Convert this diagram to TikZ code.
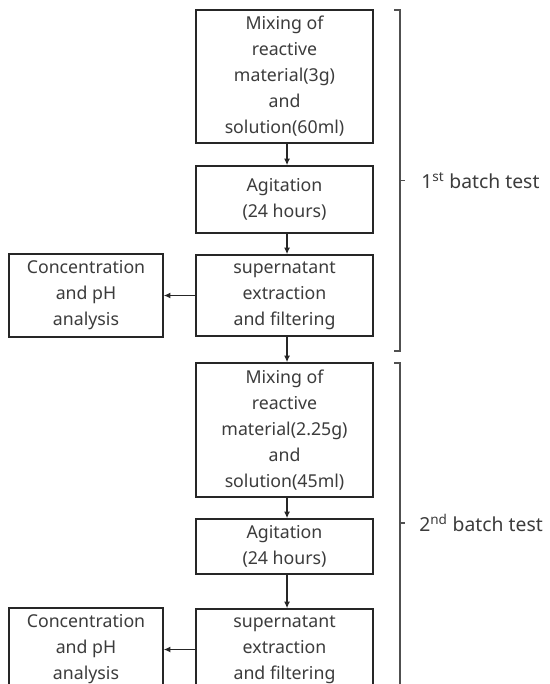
\documentclass[tikz,border=0pt]{standalone}
\usepackage{fontspec}
\setmainfont{Noto Sans}
\usetikzlibrary{arrows.meta}
\definecolor{txt}{RGB}{60,60,60}
\definecolor{brk}{RGB}{80,80,80}
\begin{document}
\begin{tikzpicture}[x=0.75pt,y=-0.75pt,
  box/.style={draw=black!85,line width=1.1pt,align=center,text=txt,
    font=\fontsize{13.3}{19.5}\selectfont,inner sep=0pt,minimum width=132.75pt},
  lbox/.style={box,minimum width=115.5pt,minimum height=62.25pt},
  flow/.style={draw=black!85,line width=1pt,-{Latex[length=5pt,width=4.5pt]}},
  bracket/.style={draw=brk,line width=1pt},
  lab/.style={text=txt,font=\fontsize{14.5}{16}\selectfont,anchor=west,inner sep=0pt}]
\useasboundingbox (0,0) rectangle (549,684);
\clip (0,0) rectangle (549,684);
\fill[white] (0,0) rectangle (549,684);
% first batch
\node[box,minimum height=99.75pt] (b1) at (284.5,76.5) {Mixing of\\reactive\\material(3g)\\and\\solution(60ml)};
\node[box,minimum height=50.25pt] (b2) at (284.5,199.5) {Agitation\\(24 hours)};
\node[box,minimum height=60.75pt] (b3) at (284.5,295.5) {supernatant\\extraction\\and filtering};
\node[lbox] (l1) at (86,295.5) {Concentration\\and pH\\analysis};
% second batch
\node[box,minimum height=100.5pt] (b4) at (284.5,430) {Mixing of\\reactive\\material(2.25g)\\and\\solution(45ml)};
\node[box,minimum height=41.25pt] (b5) at (284.5,546.5) {Agitation\\(24 hours)};
\node[box,minimum height=60.75pt] (b6) at (284.5,649.5) {supernatant\\extraction\\and filtering};
\node[lbox] (l2) at (86,649.5) {Concentration\\and pH\\analysis};
% connectors
\draw[flow] ([xshift=1.9pt]b1.south) -- ([xshift=1.9pt]b2.north);
\draw[flow] ([xshift=1.9pt]b2.south) -- ([xshift=1.9pt]b3.north);
\draw[flow] ([xshift=1.9pt]b3.south) -- ([xshift=1.9pt]b4.north);
\draw[flow] ([xshift=1.9pt]b4.south) -- ([xshift=1.9pt]b5.north);
\draw[flow] ([xshift=1.9pt]b5.south) -- ([xshift=1.9pt]b6.north);
\draw[flow] (b3) -- (l1);
\draw[flow] (b6) -- (l2);
% brackets
\coordinate (k1a) at (394,10);
\coordinate (k1b) at (400,10);
\coordinate (k1c) at (400,351);
\coordinate (k1d) at (394,351);
\coordinate (k1m) at (400,180.5);
\coordinate (k1e) at (405,180.5);
\draw[bracket] (k1a) -- (k1b) -- (k1c) -- (k1d);
\draw[bracket] (k1m) -- (k1e);
\node[lab] (t1) at (421,181) {1\textsuperscript{st} batch test};
\coordinate (k2a) at (394,363);
\coordinate (k2b) at (400,363);
\coordinate (k2c) at (400,700);
\coordinate (k2m) at (400,523);
\coordinate (k2e) at (405,523);
\draw[bracket] (k2a) -- (k2b) -- (k2c);
\draw[bracket] (k2m) -- (k2e);
\node[lab] (t2) at (419,523) {2\textsuperscript{nd} batch test};
\end{tikzpicture}
\end{document}
